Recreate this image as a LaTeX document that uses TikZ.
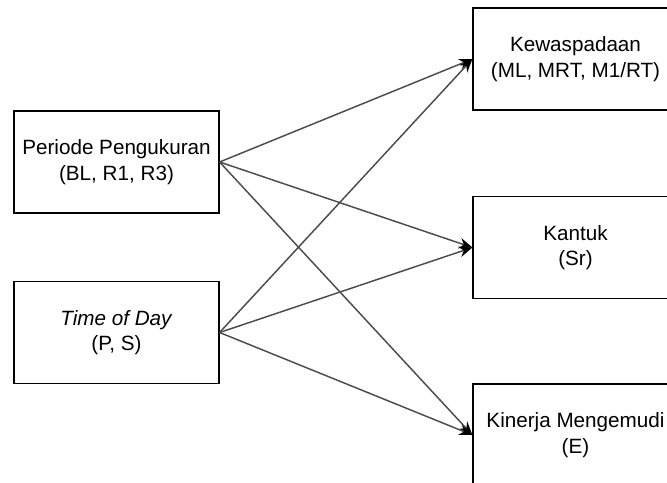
\documentclass[tikz,border=0pt]{standalone}
\usepackage{fontspec}
\setmainfont{Liberation Sans}
\usetikzlibrary{arrows.meta,positioning}

\tikzset{
  varbox/.style={draw=black, line width=0.9pt, minimum width=153.75pt,
                 minimum height=76.5pt, align=center, inner sep=2pt,
                 font=\fontsize{15.5}{19}\selectfont},
  link/.style={draw=black!70, line width=1.1pt,
               -{Stealth[length=10pt,width=8pt,color=black]}}
}

\begin{document}
\begin{tikzpicture}[x=0.75pt, y=-0.75pt]
        \useasboundingbox (0,0) rectangle (667,482);
        % variabel bebas
        \node[varbox] (periode) at (116.5,162) {Periode Pengukuran\\(BL, R1, R3)};
        \node[varbox] (tod) at (116.5,332.5) {\textit{Time of Day}\\(P, S)};
        % variabel terikat
        \node[varbox] (waspada) at (575.5,59) {Kewaspadaan\\(ML, MRT, M1/RT)};
        \node[varbox] (kantuk) at (575.5,247.5) {Kantuk\\(Sr)};
        \node[varbox] (kinerja) at (575.5,435) {Kinerja Mengemudi\\(E)};
        \foreach \src in {periode,tod}
          \foreach \dst in {waspada,kantuk,kinerja}
            \draw[link] (\src.east) -- (\dst.west);
      \end{tikzpicture}
\end{document}
